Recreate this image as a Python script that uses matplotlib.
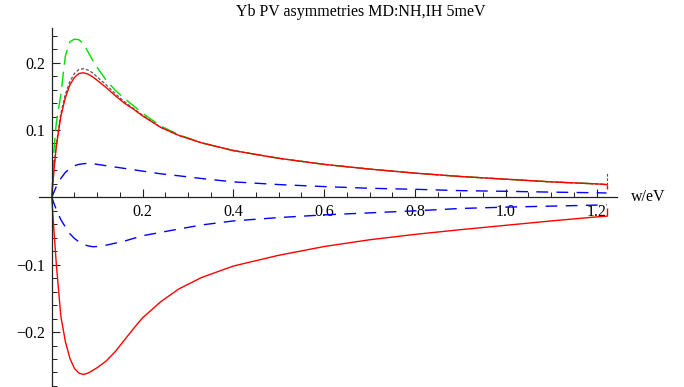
import numpy as np
import matplotlib.pyplot as plt
from matplotlib.ticker import MultipleLocator, FixedLocator

plt.rcParams['font.family'] = ['Liberation Serif', 'DejaVu Serif']

# frequency grid (eV) shared by every curve
w = [0, 0.005, 0.01, 0.02, 0.03, 0.04, 0.05, 0.06, 0.07, 0.08, 0.09, 0.1,
     0.12, 0.14, 0.16, 0.18, 0.2, 0.24, 0.28, 0.33, 0.4, 0.5, 0.6, 0.7,
     0.8, 0.9, 1.0, 1.1, 1.2, 1.222]

red_pos = [0, 0.04, 0.075, 0.12, 0.148, 0.167, 0.178, 0.184, 0.185, 0.183,
           0.179, 0.174, 0.163, 0.151, 0.140, 0.131, 0.121, 0.104, 0.092,
           0.081, 0.0695, 0.058, 0.049, 0.042, 0.036, 0.031, 0.027, 0.023,
           0.020, 0.019]
black_pos = [0, 0.042, 0.078, 0.124, 0.153, 0.172, 0.184, 0.190, 0.191,
             0.189, 0.185, 0.179, 0.167, 0.154, 0.142, 0.132, 0.122, 0.104,
             0.092, 0.081, 0.0695, 0.058, 0.049, 0.042, 0.036, 0.031, 0.027,
             0.023, 0.020, 0.019]
green_pos = [0, 0.07, 0.11, 0.152, 0.21, 0.231, 0.235, 0.234, 0.228, 0.216,
             0.204, 0.193, 0.174, 0.159, 0.147, 0.136, 0.125, 0.106, 0.093,
             0.081, 0.0695, 0.058, 0.049, 0.042, 0.036, 0.031, 0.027, 0.023,
             0.020, 0.019]
blue_pos = [0, 0.008, 0.016, 0.028, 0.037, 0.043, 0.047, 0.049, 0.050, 0.0505,
            0.050, 0.049, 0.047, 0.045, 0.043, 0.041, 0.039, 0.035, 0.032,
            0.028, 0.023, 0.019, 0.016, 0.0135, 0.012, 0.010, 0.009, 0.0078,
            0.0068, 0.0065]
blue_neg = [0, -0.009, -0.018, -0.033, -0.044, -0.054, -0.061, -0.066, -0.070,
            -0.072, -0.0733, -0.073, -0.071, -0.068, -0.065, -0.061, -0.057,
            -0.052, -0.047, -0.041, -0.035, -0.030, -0.026, -0.023, -0.020,
            -0.0165, -0.0145, -0.013, -0.0115, -0.011]
red_neg = [0, -0.05, -0.098, -0.176, -0.214, -0.239, -0.254, -0.261, -0.263,
           -0.261, -0.257, -0.253, -0.243, -0.229, -0.212, -0.195, -0.179,
           -0.155, -0.136, -0.119, -0.102, -0.086, -0.073, -0.063, -0.055,
           -0.048, -0.0415, -0.035, -0.029, -0.028]

# small end-point glitches at the last sample
end_w = 1.222
end_black = (0.019, 0.036)
end_red_pos = (0.012, 0.019)
end_red_neg = (-0.028, -0.016)

fig = plt.figure(figsize=(6.84, 3.87), dpi=100)
ax = fig.add_axes([39 / 684, 0.0, (617 - 39) / 684, 1 - 28 / 387])

ax.plot(w, black_pos, color='0.35', lw=0.9, dashes=(2.5, 1.5))
ax.plot(w, green_pos, color='#00dd00', lw=1.0, dashes=(11, 5))
ax.plot(w, blue_pos, color='blue', lw=1.0, dashes=(8.5, 6))
ax.plot(w, blue_neg, color='blue', lw=1.0, dashes=(8.5, 6))
ax.plot(w, red_pos, color='red', lw=1.0)
ax.plot(w, red_neg, color='red', lw=1.0)
ax.vlines(end_w, *end_black, color='0.35', lw=0.8, linestyles=(0, (2.5, 1.5)))
ax.vlines(end_w, *end_red_pos, color='red', lw=1.0)
ax.vlines(end_w, *end_red_neg, color='red', lw=1.0)

ax.set_xlim(-0.028, 1.245)
ax.set_ylim(-0.2816, 0.2515)

for s in ['top', 'right']:
    ax.spines[s].set_visible(False)
ax.spines['left'].set_position(('data', 0))
ax.spines['bottom'].set_position(('data', 0))
for s in ['left', 'bottom']:
    ax.spines[s].set_linewidth(0.9)
    ax.spines[s].set_color('#222222')

ax.xaxis.set_major_locator(FixedLocator([0.2, 0.4, 0.6, 0.8, 1.0, 1.2]))
ax.xaxis.set_minor_locator(MultipleLocator(0.05))
ax.yaxis.set_major_locator(FixedLocator([-0.2, -0.1, 0.1, 0.2]))
ax.yaxis.set_minor_locator(MultipleLocator(0.02))
ax.set_xticklabels(['0.2', '0.4', '0.6', '0.8', '1.0', '1.2'])
ax.set_yticklabels(['\u22120.2', '\u22120.1', '0.1', '0.2'])
ax.tick_params(which='both', direction='in', color='#222222', labelsize=11.5)
ax.tick_params(which='major', length=6, width=0.8, pad=5)
ax.tick_params(which='minor', length=3.5, width=0.7)

ax.annotate('w/eV', xy=(1.0, 0), xycoords=('axes fraction', 'data'),
            xytext=(10, 0), textcoords='offset points',
            ha='left', va='center', fontsize=11.5)

fig.text(0.527, 0.968, 'Yb PV asymmetries MD:NH,IH 5meV', ha='center',
         va='center', fontsize=11.5)

fig.savefig('out.png', dpi=100)
